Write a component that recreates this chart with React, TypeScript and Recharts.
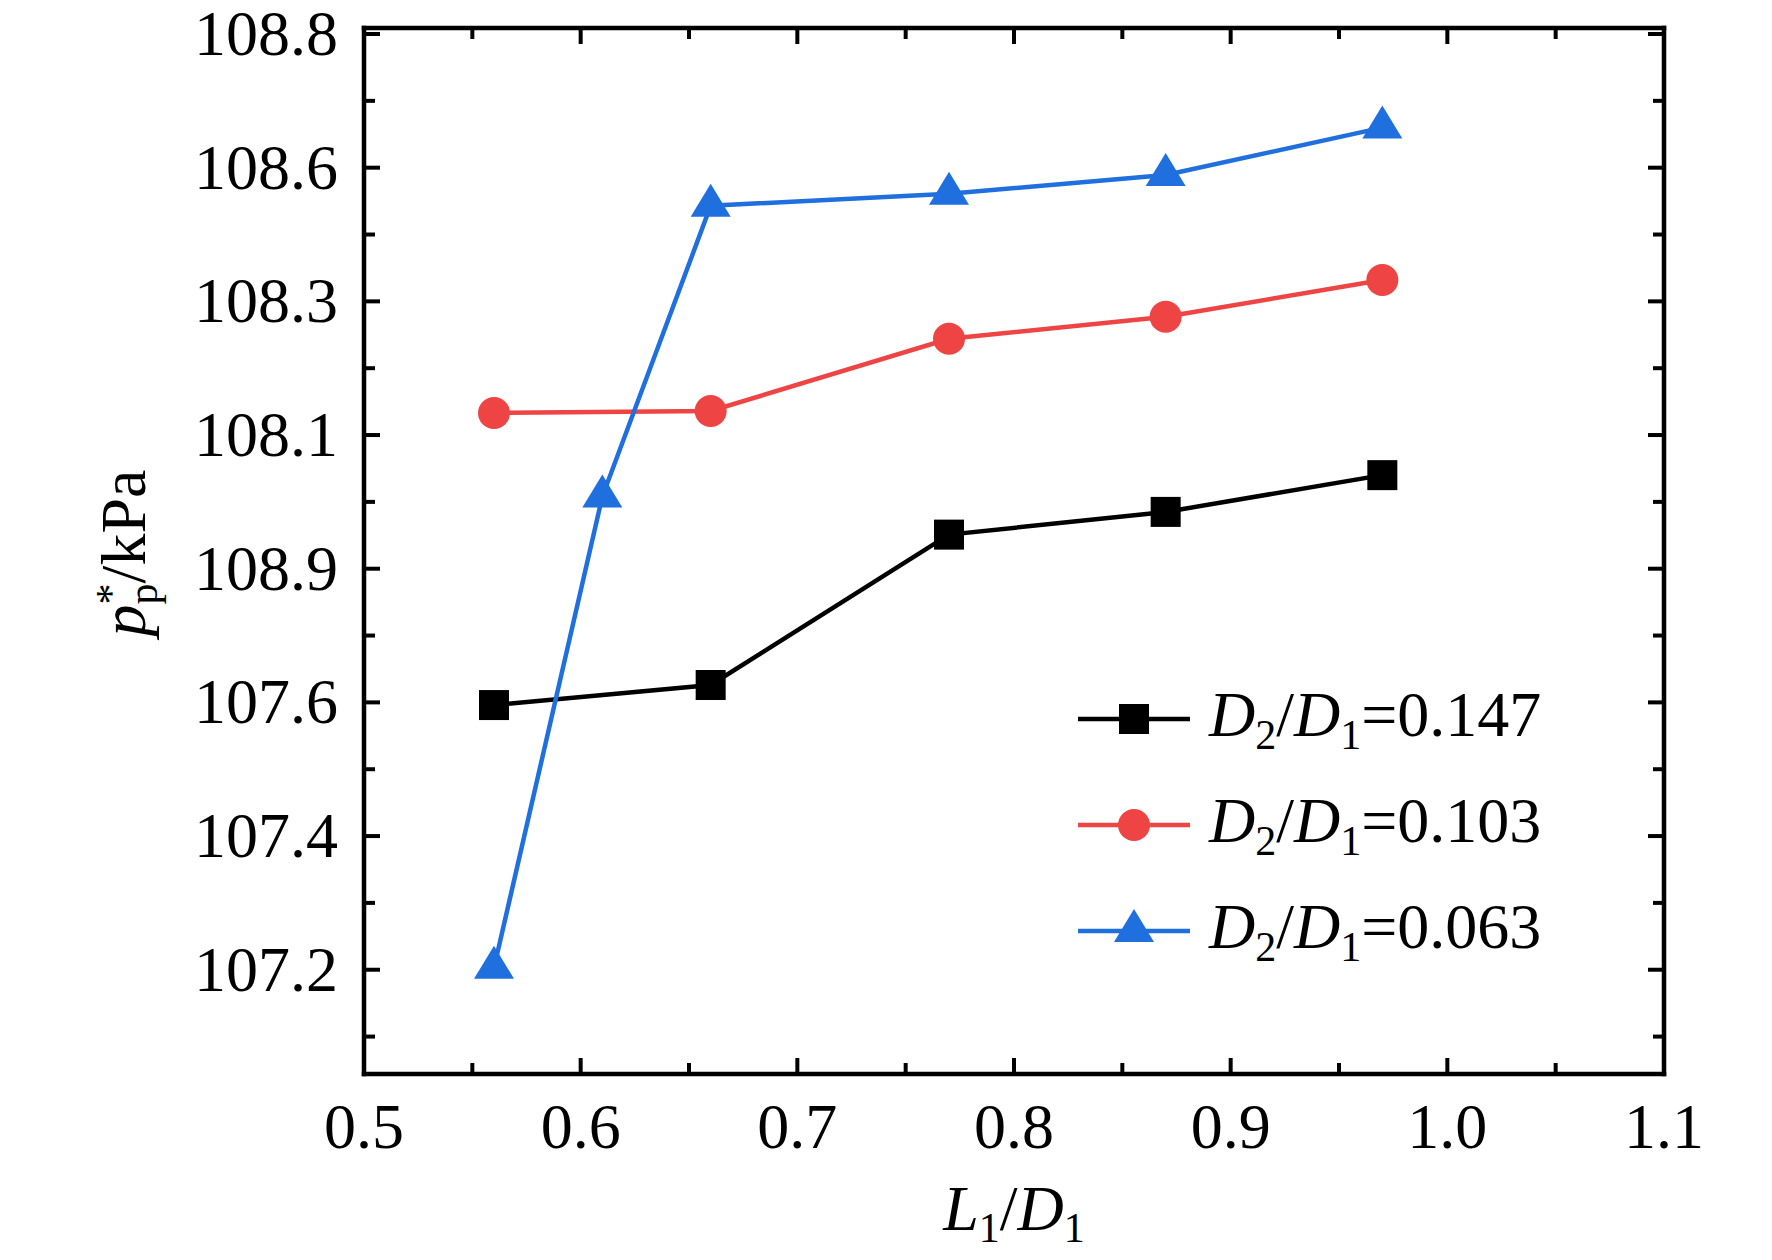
import React from 'react';
import { LineChart, Line, XAxis, YAxis, Legend } from 'recharts';

const FONT = '"Liberation Serif", "Times New Roman", Times, serif';

// ---- data ----
const X_BLACK = [0.56, 0.66, 0.77, 0.87, 0.97];
const Y_BLACK = [107.596, 107.626, 107.851, 107.885, 107.94];
const X_RED = [0.56, 0.66, 0.77, 0.87, 0.97];
const Y_RED = [108.033, 108.036, 108.144, 108.177, 108.232];
const X_BLUE = [0.56, 0.61, 0.66, 0.77, 0.87, 0.97];
const Y_BLUE = [107.203, 107.908, 108.343, 108.361, 108.389, 108.46];

const SERIES_VALUES = ['0.147', '0.103', '0.063'];

const X_MAJOR_TICKS = [0.5, 0.6, 0.7, 0.8, 0.9, 1.0, 1.1];
const X_MINOR_TICKS = [0.55, 0.65, 0.75, 0.85, 0.95, 1.05];
const X_TICK_LABELS = ['0.5', '0.6', '0.7', '0.8', '0.9', '1.0', '1.1'];
const Y_MAJOR_TICKS = [107.2, 107.4, 107.6, 107.8, 108.0, 108.2, 108.4, 108.6];
const Y_MINOR_TICKS = [107.1, 107.3, 107.5, 107.7, 107.9, 108.1, 108.3, 108.5];
const Y_TICK_LABELS = ['107.2', '107.4', '107.6', '108.9', '108.1', '108.3', '108.6', '108.8'];
const X_DOMAIN = [0.5, 1.1];
const Y_DOMAIN = [107.044, 108.609];

// ---- styles ----
const BLACK = '#000000';
const RED = '#EE4444';
const BLUE = '#1F6FDE';
const MAJOR_LEN = 16;
const MINOR_LEN = 11;
const AXIS_W = 4.5;
const TICK_W = 4;
const FS = 64;
const SUB_FS = 42;

const toPoints = (xs: number[], ys: number[]) => xs.map((x, i) => ({ x, y: ys[i] }));
const DATA_BLACK = toPoints(X_BLACK, Y_BLACK);
const DATA_RED = toPoints(X_RED, Y_RED);
const DATA_BLUE = toPoints(X_BLUE, Y_BLUE);

const X_TICKS = [...X_MAJOR_TICKS, ...X_MINOR_TICKS].sort((a, b) => a - b);
const Y_TICKS = [...Y_MAJOR_TICKS, ...Y_MINOR_TICKS].sort((a, b) => a - b);

const majorIndex = (arr: number[], v: number) => arr.findIndex((t) => Math.abs(t - v) < 1e-6);

const axisLine = { stroke: '#000', strokeWidth: AXIS_W, strokeLinecap: 'square' as const };

const LeftTick = (props: any) => {
  const { x, y, payload } = props;
  const i = majorIndex(Y_MAJOR_TICKS, payload.value);
  const len = i >= 0 ? MAJOR_LEN : MINOR_LEN;
  return (
    <g>
      <line x1={x} y1={y} x2={x + len} y2={y} stroke="#000" strokeWidth={TICK_W} />
      {i >= 0 && (
        <text x={x - 26} y={y + 21} textAnchor="end" fontFamily={FONT} fontSize={FS} fill="#000">
          {Y_TICK_LABELS[i]}
        </text>
      )}
    </g>
  );
};

const RightTick = (props: any) => {
  const { x, y, payload } = props;
  const i = majorIndex(Y_MAJOR_TICKS, payload.value);
  const len = i >= 0 ? MAJOR_LEN : MINOR_LEN;
  return <line x1={x} y1={y} x2={x - len} y2={y} stroke="#000" strokeWidth={TICK_W} />;
};

const BottomTick = (props: any) => {
  const { x, y, payload } = props;
  const i = majorIndex(X_MAJOR_TICKS, payload.value);
  const len = i >= 0 ? MAJOR_LEN : MINOR_LEN;
  return (
    <g>
      <line x1={x} y1={y} x2={x} y2={y - len} stroke="#000" strokeWidth={TICK_W} />
      {i >= 0 && (
        <text x={x} y={y + 74} textAnchor="middle" fontFamily={FONT} fontSize={FS} fill="#000">
          {X_TICK_LABELS[i]}
        </text>
      )}
    </g>
  );
};

const TopTick = (props: any) => {
  const { x, y, payload } = props;
  const i = majorIndex(X_MAJOR_TICKS, payload.value);
  const len = i >= 0 ? MAJOR_LEN : MINOR_LEN;
  return <line x1={x} y1={y} x2={x} y2={y + len} stroke="#000" strokeWidth={TICK_W} />;
};

const Square = ({ cx, cy, color }: any) => (
  <rect x={cx - 15} y={cy - 15} width={30} height={30} fill={color} />
);
const Circle = ({ cx, cy, color }: any) => <circle cx={cx} cy={cy} r={16} fill={color} />;
const Triangle = ({ cx, cy, color }: any) => (
  <polygon points={`${cx},${cy - 22} ${cx - 20},${cy + 11} ${cx + 20},${cy + 11}`} fill={color} />
);

const SERIES = [
  { key: 'black', data: DATA_BLACK, color: BLACK, width: 4.5, Marker: Square },
  { key: 'red', data: DATA_RED, color: RED, width: 4.5, Marker: Circle },
  { key: 'blue', data: DATA_BLUE, color: BLUE, width: 4.5, Marker: Triangle },
];

const LEGEND_X = 1078;
const LEGEND_Y = 719;
const LEGEND_STEP = 106;

const renderLegend = () => (
  <svg width={1772} height={1260} style={{ position: 'absolute', left: 0, top: 0, overflow: 'visible' }}>
    {SERIES.map((s, i) => {
      const y = LEGEND_Y + i * LEGEND_STEP;
      const M = s.Marker;
      return (
        <g key={s.key}>
          <line x1={LEGEND_X} y1={y} x2={LEGEND_X + 112} y2={y} stroke={s.color} strokeWidth={s.width} />
          <M cx={LEGEND_X + 56} cy={y} color={s.color} />
          <text x={LEGEND_X + 131} y={y + 17} fontFamily={FONT} fontSize={FS} fill="#000">
            <tspan fontStyle="italic">D</tspan>
            <tspan fontSize={SUB_FS} dy={13}>2</tspan>
            <tspan dy={-13}>/</tspan>
            <tspan fontStyle="italic">D</tspan>
            <tspan fontSize={SUB_FS} dy={13}>1</tspan>
            <tspan dy={-13}>={SERIES_VALUES[i]}</tspan>
          </text>
        </g>
      );
    })}
  </svg>
);

const XLabel = () => (
  <text x={1014} y={1230} textAnchor="middle" fontFamily={FONT} fontSize={FS} fill="#000">
    <tspan fontStyle="italic">L</tspan>
    <tspan fontSize={SUB_FS} dy={12}>1</tspan>
    <tspan dy={-12}>/</tspan>
    <tspan fontStyle="italic">D</tspan>
    <tspan fontSize={SUB_FS} dy={12}>1</tspan>
  </text>
);

const YLabel = () => (
  <text
    transform="rotate(-90)"
    x={-553}
    y={145}
    textAnchor="middle"
    fontFamily={FONT}
    fontSize={FS}
    fill="#000"
  >
    <tspan fontStyle="italic">p</tspan>
    <tspan fontSize={SUB_FS} dy={12}>p</tspan>
    <tspan fontSize={SUB_FS} dx={-21} dy={-32}>*</tspan>
    <tspan dy={20}>/kPa</tspan>
  </text>
);

export default function App() {
  return (
    <div style={{ position: 'absolute', left: 0, top: 0, width: 1772, height: 1260, background: '#fff' }}>
      <LineChart width={1772} height={1260} margin={{ top: 0, right: 0, bottom: 0, left: 0 }}>
        <XAxis
          xAxisId={0}
          dataKey="x"
          type="number"
          domain={X_DOMAIN}
          ticks={X_TICKS}
          interval={0}
          allowDataOverflow
          height={186}
          tickSize={0}
          tickMargin={0}
          tickLine={false}
          axisLine={axisLine}
          tick={BottomTick}
          label={{ content: XLabel }}
        />
        <XAxis
          xAxisId="top"
          orientation="top"
          dataKey="x"
          type="number"
          domain={X_DOMAIN}
          ticks={X_TICKS}
          interval={0}
          allowDataOverflow
          height={28}
          tickSize={0}
          tickMargin={0}
          tickLine={false}
          axisLine={axisLine}
          tick={TopTick}
        />
        <YAxis
          yAxisId={0}
          type="number"
          domain={Y_DOMAIN}
          ticks={Y_TICKS}
          interval={0}
          allowDataOverflow
          width={364}
          tickSize={0}
          tickMargin={0}
          tickLine={false}
          axisLine={axisLine}
          tick={LeftTick}
          label={{ content: YLabel }}
        />
        <YAxis
          yAxisId="right"
          orientation="right"
          type="number"
          domain={Y_DOMAIN}
          ticks={Y_TICKS}
          interval={0}
          allowDataOverflow
          width={108}
          tickSize={0}
          tickMargin={0}
          tickLine={false}
          axisLine={axisLine}
          tick={RightTick}
        />
        {SERIES.map((s) => {
          const M = s.Marker;
          return (
            <Line
              key={s.key}
              data={s.data}
              dataKey="y"
              xAxisId={0}
              yAxisId={0}
              type="linear"
              stroke={s.color}
              strokeWidth={s.width}
              isAnimationActive={false}
              dot={(p: any) => <M key={`${s.key}-${p.index}`} cx={p.cx} cy={p.cy} color={s.color} />}
              activeDot={false}
            />
          );
        })}
        <Legend
          layout="vertical"
          align="center"
          verticalAlign="middle"
          content={renderLegend}
          wrapperStyle={{ left: 0, top: 0, width: 1772, height: 1260, pointerEvents: 'none' }}
        />
      </LineChart>
    </div>
  );
}
